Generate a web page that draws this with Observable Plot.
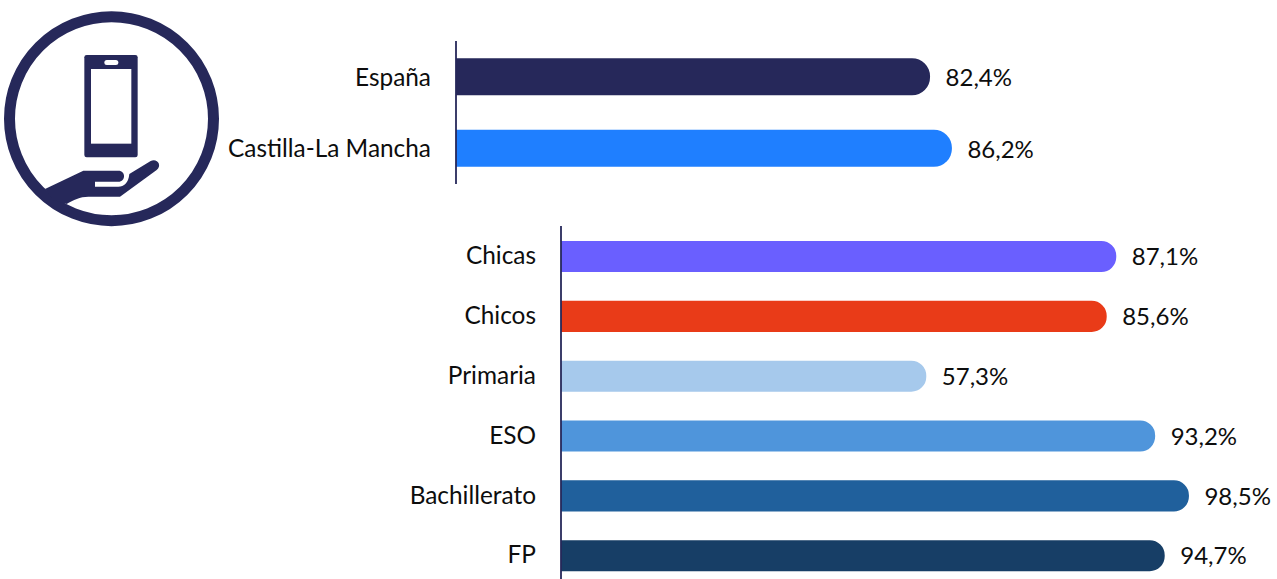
<!DOCTYPE html>
<html lang="es">
<head>
<meta charset="utf-8">
<script src="https://cdn.jsdelivr.net/npm/d3@7"></script>
<script src="https://cdn.jsdelivr.net/npm/@observablehq/plot@0.6"></script>
<style>
html,body{margin:0;padding:0;background:#fff;overflow:hidden}
#stage{position:relative;width:1277px;height:579px;overflow:hidden}
#stage>svg{position:absolute;left:0;top:0}
</style>
</head>
<body>
<div id="stage">
<svg id="icon" width="230" height="235" viewBox="0 0 690 705" aria-hidden="true">
  <circle cx="334.5" cy="356" r="306" fill="none" stroke="#26285a" stroke-width="33"/>
  <rect x="253" y="165" width="160" height="307" rx="7" fill="#26285a"/>
  <rect x="273" y="207" width="121" height="224" fill="#fff"/>
  <rect x="313" y="180" width="42" height="15" rx="7.5" fill="#fff"/>
  <path fill="#26285a" d="M135 567 L250 512 H355 C378 512 378 545 355 545 H285 V560 H355 C372 560 385 550 388 522 L452 483 C470 473 488 495 470 510 L360 590 H265 C240 590 220 600 200 612 L160 600 Z"/>
</svg>
</div>
<script>
const topCategories = ["España", "Castilla-La Mancha"];
const topValues = [82.4, 86.2];
const topColors = ["#26285a", "#1f7fff"];

const bottomCategories = ["Chicas", "Chicos", "Primaria", "ESO", "Bachillerato", "FP"];
const bottomValues = [87.1, 85.6, 57.3, 93.2, 98.5, 94.7];
const bottomColors = ["#6a5fff", "#e93b18", "#a6c9ec", "#4f95db", "#20609c", "#173e66"];

const FONT = "Lato, 'Noto Sans', sans-serif";
const pct = v => v.toFixed(1).replace(".", ",") + "%";

function panel({categories, values, colors, height, xRange, yRange, marginTop, radius, padInner, catDy, valDy}) {
  const data = categories.map((c, i) => ({c, v: values[i], color: colors[i]}));
  return Plot.plot({
    width: 1277,
    height,
    marginTop,
    marginBottom: 0,
    marginLeft: xRange[0],
    marginRight: 0,
    style: {fontFamily: FONT, background: "transparent", overflow: "hidden"},
    x: {domain: [0, 100], range: xRange, axis: null},
    y: {domain: categories, range: yRange, paddingInner: padInner, paddingOuter: padInner / 2, round: false, label: null, axis: null},
    marks: [
      Plot.barX(data, {x: 0 , x2: "v", y: "c", fill: d => d.color, rx2: radius}),
      Plot.ruleX([0], {stroke: "#26285a", strokeWidth: 1.8, dx: -0.5}),
      Plot.text(data, {x: 0, y: "c", text: "c", textAnchor: "end", dx: -25.5, dy: catDy, fontSize: 24.4, fill: "#0d0d0d"}),
      Plot.text(data, {x: "v", y: "c", text: d => pct(d.v), textAnchor: "start", dx: 15, dy: valDy, fontSize: 24, fill: "#0d0d0d"})
    ]
  });
}

const stage = document.getElementById("stage");
stage.append(panel({
  categories: topCategories, values: topValues, colors: topColors, height: 184,
  xRange: [456, 1031.3], yRange: [41, 184], marginTop: 41, radius: 18, padInner: 0.48, catDy: 0.5, valDy: 1.5
}));
stage.append(panel({
  categories: bottomCategories, values: bottomValues, colors: bottomColors, height: 579,
  xRange: [561, 1198.5], yRange: [226.6, 585.6], marginTop: 226, radius: 15, padInner: 0.48, catDy: -0.5, valDy: 0.5
}));
</script>
</body>
</html>
